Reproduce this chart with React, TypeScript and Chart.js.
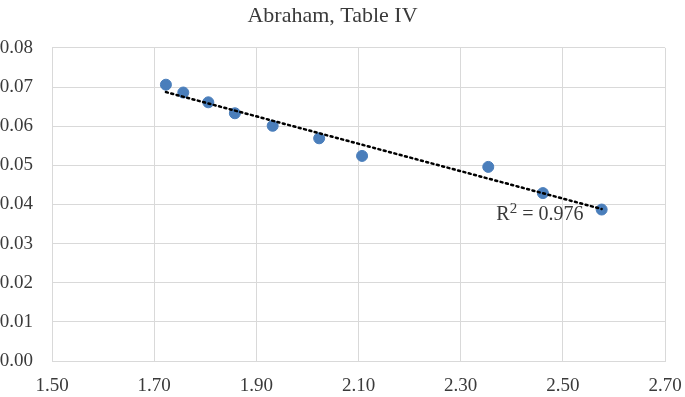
import React, { useEffect, useRef } from "react";
import { Chart, registerables } from "chart.js";

Chart.register(...registerables);

const TITLE = "Abraham, Table IV";
const xValues = [1.723, 1.757, 1.806, 1.858, 1.932, 2.023, 2.107, 2.354, 2.461, 2.576];
const yValues = [0.0706, 0.0686, 0.0661, 0.0633, 0.0601, 0.0569, 0.0524, 0.0496, 0.0429, 0.0387];
const R2_BASE = "R";
const R2_SUP = "2";
const R2_REST = " = 0.976";
const R2_POS = { x: 2.455, y: 0.0377 };
const xTicks = [1.5, 1.7, 1.9, 2.1, 2.3, 2.5, 2.7];
const yTicks = [0, 0.01, 0.02, 0.03, 0.04, 0.05, 0.06, 0.07, 0.08];

const FONT = "'Liberation Serif', 'Times New Roman', serif";
const TEXT_COLOR = "#3a3a3a";
const GRID = "#d9d9d9";

function regression(xs: number[], ys: number[]) {
  const n = xs.length;
  const mx = xs.reduce((a, b) => a + b, 0) / n;
  const my = ys.reduce((a, b) => a + b, 0) / n;
  let sxy = 0, sxx = 0;
  for (let i = 0; i < n; i++) {
    sxy += (xs[i] - mx) * (ys[i] - my);
    sxx += (xs[i] - mx) * (xs[i] - mx);
  }
  const slope = sxy / sxx;
  return { slope, intercept: my - slope * mx };
}

export default function App() {
  const ref = useRef<HTMLCanvasElement | null>(null);

  useEffect(() => {
    document.body.style.margin = "0";
    const { slope, intercept } = regression(xValues, yValues);
    const xmin = Math.min(...xValues);
    const xmax = Math.max(...xValues);
    const trend = [
      { x: xmin, y: slope * xmin + intercept },
      { x: xmax, y: slope * xmax + intercept },
    ];

    const r2Plugin = {
      id: "r2label",
      afterDatasetsDraw(chart: any) {
        const ctx = chart.ctx;
        const xs = chart.scales.x;
        const ys = chart.scales.y;
        ctx.save();
        ctx.fillStyle = TEXT_COLOR;
        ctx.textBaseline = "alphabetic";
        const big = `20px ${FONT}`;
        const small = `15px ${FONT}`;
        ctx.font = big;
        const w1 = ctx.measureText(R2_BASE).width;
        const w3 = ctx.measureText(R2_REST).width;
        ctx.font = small;
        const w2 = ctx.measureText(R2_SUP).width;
        const total = w1 + w2 + w3;
        const cx = xs.getPixelForValue(R2_POS.x);
        const cy = ys.getPixelForValue(R2_POS.y);
        let x = cx - total / 2;
        const base = cy + 7;
        ctx.textAlign = "left";
        ctx.font = big;
        ctx.fillText(R2_BASE, x, base);
        x += w1;
        ctx.font = small;
        ctx.fillText(R2_SUP, x, base - 7);
        x += w2;
        ctx.font = big;
        ctx.fillText(R2_REST, x, base);
        ctx.restore();
      },
    };

    const chart = new Chart(ref.current as HTMLCanvasElement, {
      type: "scatter",
      data: {
        datasets: [
          {
            type: "line",
            label: "Trend",
            data: trend,
            borderColor: "#000000",
            borderWidth: 2.5,
            borderDash: [2, 3.5],
            borderCapStyle: "round",
            pointRadius: 0,
            fill: false,
            order: 0,
          } as any,
          {
            label: "Data",
            data: xValues.map((x, i) => ({ x, y: yValues[i] })),
            backgroundColor: "#4a7ebb",
            borderColor: "#4a7ebb",
            pointRadius: 5.5,
            order: 1,
          },
        ],
      },
      options: {
        animation: false,
        responsive: true,
        maintainAspectRatio: false,
        layout: { padding: { left: 0, right: 20, top: 0, bottom: 0 } },
        plugins: {
          legend: { display: false },
          tooltip: { enabled: false },
          title: {
            display: true,
            text: TITLE,
            color: TEXT_COLOR,
            font: { family: FONT, size: 22, weight: "normal" },
            padding: { top: 3, bottom: 18.5 },
          },
        },
        scales: {
          x: {
            type: "linear",
            min: 1.5,
            max: 2.7,
            afterBuildTicks: (s: any) => {
              s.ticks = xTicks.map((v) => ({ value: v }));
            },
            afterFit: (s: any) => {
              s.height = 36;
              s.paddingLeft = 0;
              s.paddingRight = 0;
            },
            grid: { color: GRID, drawTicks: false },
            border: { color: GRID },
            ticks: {
              color: TEXT_COLOR,
              font: { family: FONT, size: 19 },
              padding: 14,
              callback: (v: any) => Number(v).toFixed(2),
            },
          },
          y: {
            type: "linear",
            min: 0,
            max: 0.08,
            afterBuildTicks: (s: any) => {
              s.ticks = yTicks.map((v) => ({ value: v }));
            },
            afterFit: (s: any) => {
              s.width = 52;
              s.paddingTop = 0;
              s.paddingBottom = 0;
            },
            grid: { color: GRID, drawTicks: false },
            border: { color: GRID },
            ticks: {
              color: TEXT_COLOR,
              font: { family: FONT, size: 19 },
              padding: 19,
              callback: (v: any) => Number(v).toFixed(2),
            },
          },
        },
      },
      plugins: [r2Plugin],
    });
    return () => chart.destroy();
  }, []);

  return (
    <div style={{ position: "fixed", left: 0, top: 0, width: 685, height: 397 }}>
      <canvas ref={ref} />
    </div>
  );
}
